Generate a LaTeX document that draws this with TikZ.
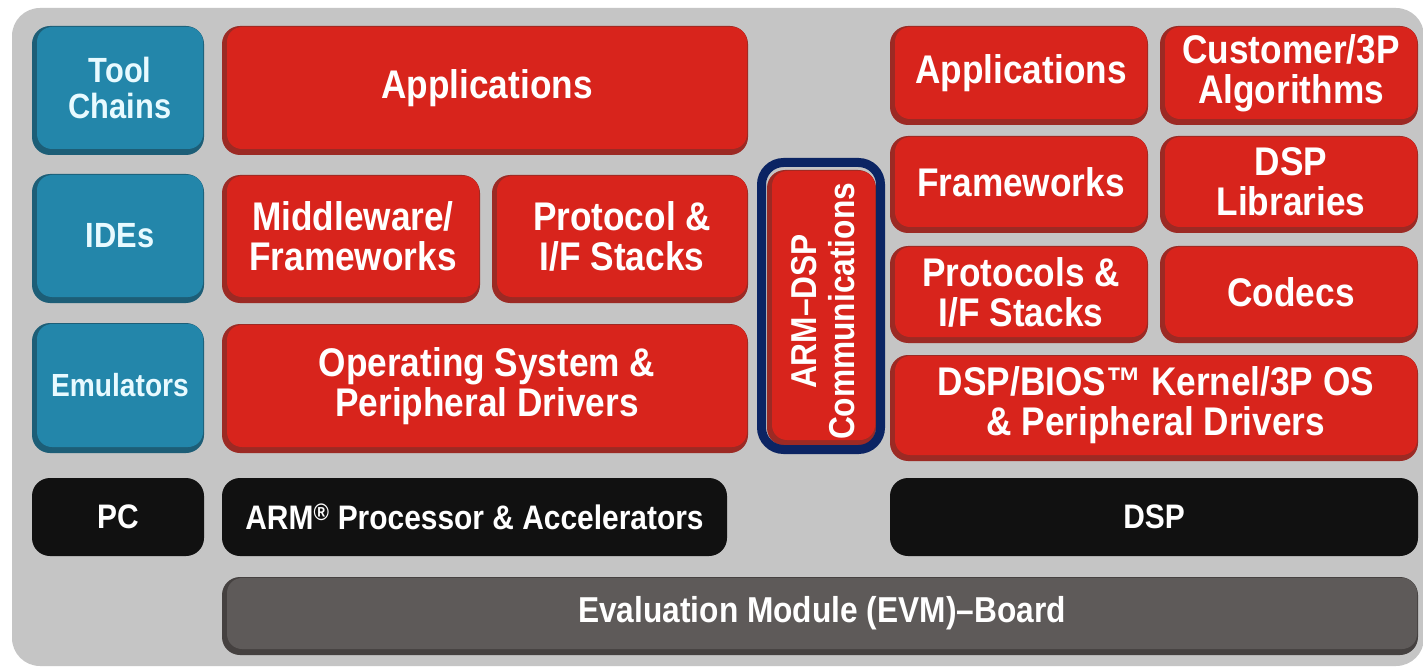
\documentclass[tikz,border=0pt]{standalone}
\usepackage{fontspec}
\setmainfont{Liberation Sans}[FakeStretch=0.88]
\begin{document}
\definecolor{panel}{HTML}{C5C5C5}
\definecolor{redface}{HTML}{D8241C}
\definecolor{redshade}{HTML}{9C2A24}
\definecolor{blueface}{HTML}{2386AA}
\definecolor{blueshade}{HTML}{1D5E77}
\definecolor{blackface}{HTML}{111111}
\definecolor{boardface}{HTML}{5E5A59}
\definecolor{boardshade}{HTML}{454140}
\definecolor{navy}{HTML}{0B2463}
\definecolor{paletext}{HTML}{E8FAFF}
\tikzset{
  red shade/.style={fill=redshade, rounded corners=18pt},
  red face/.style={fill=redface, rounded corners=15pt, text=white, align=center,
    inner sep=0pt, font=\bfseries\fontsize{40}{40}\selectfont},
  blue shade/.style={fill=blueshade, rounded corners=18pt},
  blue face/.style={fill=blueface, rounded corners=15pt, text=paletext, align=center,
    inner sep=0pt, font=\bfseries\fontsize{35}{36}\selectfont},
  board shade/.style={fill=boardshade, rounded corners=18pt},
  board face/.style={fill=boardface, rounded corners=15pt, text=white, align=center,
    inner sep=0pt, font=\bfseries\fontsize{36}{36}\selectfont},
  black tile/.style={fill=blackface, rounded corners=18pt, text=white, align=center,
    inner sep=0pt, font=\bfseries\fontsize{34}{34}\selectfont},
  navy ring/.style={draw=navy, line width=9pt, rounded corners=22pt},
  vertical label/.style={text=white, align=center, inner sep=0pt, rotate=90,
    font=\bfseries\fontsize{36}{38}\selectfont},
}
% bevelled tile: name, colour, x1, y1, x2, y2, text
\newcommand\tile[7]{%
  \pgfmathsetmacro\tilew{#5-#3-6}\pgfmathsetmacro\tileh{#6-#4-7}%
  \pgfmathsetmacro\tilecx{(#3+#5+4)/2}\pgfmathsetmacro\tilecy{(#4+#6-5)/2}%
  \fill[#2 shade] (#3,#4) rectangle (#5,#6);
  \node[#2 face, minimum width=\tilew pt, minimum height=\tileh pt] (#1) at (\tilecx,\tilecy) {#7};
}
% flat tile: name, x1, y1, x2, y2, text
\newcommand\flattile[6]{%
  \pgfmathsetmacro\tilew{#4-#2}\pgfmathsetmacro\tileh{#5-#3}%
  \pgfmathsetmacro\tilecx{(#2+#4)/2}\pgfmathsetmacro\tilecy{(#3+#5)/2}%
  \node[black tile, minimum width=\tilew pt, minimum height=\tileh pt] (#1) at (\tilecx,\tilecy) {#6};
}
\begin{tikzpicture}[x=1pt, y=-1pt]
  \useasboundingbox (0,0) rectangle (1423,668);
  \fill[white] (0,0) rectangle (1423,668);
  \fill[panel, rounded corners=28pt] (12,8) rectangle (1424,666);

  % development tools
  \tile{tools}{blue}{32}{26}{204}{155}{Tool\\Chains}
  \tile{ides}{blue}{32}{174}{204}{303}{IDEs}
  \tile{emul}{blue}{32}{323}{204}{453}{\fontsize{32}{32}\selectfont Emulators}

  % ARM software stack
  \tile{armapps}{red}{222}{26}{748}{155}{Applications}
  \tile{middleware}{red}{222}{175}{480}{303}{Middleware/\\Frameworks}
  \tile{armproto}{red}{492}{175}{748}{303}{Protocol \&\\I/F Stacks}
  \tile{armos}{red}{222}{324}{748}{453}{Operating System \&\\Peripheral Drivers}

  % inter-processor link
  \tile{armdsp}{red}{767}{170}{876}{446}{}
  \node[vertical label] (armdsplabel) at ([yshift=-6pt]armdsp.center) {ARM–DSP\\Communications};
  \draw[navy ring] (761.5,162.5) rectangle (880.5,449.5);

  % DSP software stack
  \tile{dspapps}{red}{890}{26}{1148}{125}{Applications}
  \tile{algos}{red}{1160}{26}{1418}{125}{Customer/3P\\Algorithms}
  \tile{dspfw}{red}{890}{136}{1148}{233}{Frameworks}
  \tile{dsplib}{red}{1160}{136}{1418}{233}{DSP\\Libraries}
  \tile{dspproto}{red}{890}{246}{1148}{343}{Protocols \&\\I/F Stacks}
  \tile{codecs}{red}{1160}{246}{1418}{343}{Codecs}
  \tile{bios}{red}{890}{355}{1418}{461}{DSP/BIOS™ Kernel/3P OS\\\& Peripheral Drivers}

  % hardware
  \flattile{pc}{32}{478}{204}{556}{PC}
  \flattile{armcpu}{222}{478}{727}{556}{ARM\textsuperscript{\textregistered} Processor \& Accelerators}
  \flattile{dsp}{890}{478}{1418}{556}{DSP}
  \tile{evm}{board}{222}{577}{1418}{655}{Evaluation Module (EVM)–Board}
\end{tikzpicture}
\end{document}
